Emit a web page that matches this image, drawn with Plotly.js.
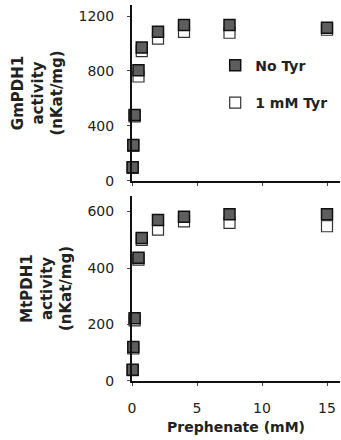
<!DOCTYPE html>
<html>
<head>
<meta charset="utf-8">
<script src="https://cdn.plot.ly/plotly-3.0.1.min.js"></script>
<style>html,body{margin:0;padding:0;background:#fff;}#chart{width:341px;height:440px;}</style>
</head>
<body>
<div id="chart"></div>
<script>
// Prephenate concentrations (mM)
var prephenate = [0.05, 0.1, 0.2, 0.5, 0.75, 2, 4, 7.5, 15];
// GmPDH1 activity (nKat/mg)
var gmNoTyr  = [100, 262, 480, 805, 970, 1085, 1135, 1135, 1115];
var gmTyr    = [95, 255, 470, 760, 945, 1035, 1085, 1078, 1100];
// MtPDH1 activity (nKat/mg)
var mtNoTyr  = [40, 120, 222, 436, 506, 570, 582, 590, 590];
var mtTyr    = [38, 115, 215, 430, 500, 536, 565, 560, 548];
// labels
var seriesNames = ['No Tyr', '1 mM Tyr'];
var xTicks = [0, 5, 10, 15];
var gmTicks = [0, 400, 800, 1200];
var mtTicks = [0, 200, 400, 600];

var filled = {symbol: 'square', size: 11, color: '#5e5e5e', line: {color: '#111', width: 1.5}};
var open = {symbol: 'square', size: 11, color: '#ffffff', line: {color: '#333', width: 1.2}};

var traces = [
  {x: prephenate, y: gmTyr, xaxis: 'x2', yaxis: 'y2', mode: 'markers', type: 'scatter',
   name: seriesNames[1], marker: open, legendrank: 2, legendgroup: 'b', cliponaxis: false},
  {x: prephenate, y: gmNoTyr, xaxis: 'x2', yaxis: 'y2', mode: 'markers', type: 'scatter',
   name: seriesNames[0], marker: filled, legendrank: 1, legendgroup: 'a', cliponaxis: false},
  {x: prephenate, y: mtTyr, xaxis: 'x', yaxis: 'y', mode: 'markers', type: 'scatter',
   name: seriesNames[1], marker: open, showlegend: false, cliponaxis: false},
  {x: prephenate, y: mtNoTyr, xaxis: 'x', yaxis: 'y', mode: 'markers', type: 'scatter',
   name: seriesNames[0], marker: filled, showlegend: false, cliponaxis: false}
];

var tickFont = {family: 'DejaVu Sans', size: 14, color: '#222'};
var titleFont = {family: 'DejaVu Sans', size: 15, color: '#222', weight: 'bold'};

var yCommon = {
  showline: true, linecolor: '#111', linewidth: 2, ticks: 'outside', ticklen: 3, tickwidth: 1,
  tickcolor: '#444', showgrid: false, zeroline: false, tickfont: tickFont, ticklabelstandoff: 10,
  fixedrange: true
};
var xCommon = {
  showline: true, linecolor: '#111', linewidth: 2, ticks: 'outside', ticklen: 3, tickwidth: 1,
  tickcolor: '#444', showgrid: false, zeroline: false, tickfont: tickFont, range: [0, 16],
  tickmode: 'array', tickvals: xTicks, fixedrange: true
};

var layout = {
  width: 341, height: 440,
  margin: {l: 132, r: 1, t: 5, b: 59},
  paper_bgcolor: '#fff', plot_bgcolor: '#fff',
  showlegend: true,
  legend: {
    x: 0.40, y: 0.881, xanchor: 'left', yanchor: 'top',
    font: {family: 'DejaVu Sans', size: 14, color: '#222', weight: 'bold'},
    bgcolor: 'rgba(0,0,0,0)', tracegroupgap: 16, traceorder: 'grouped', itemwidth: 30
  },
  xaxis: Object.assign({}, xCommon, {anchor: 'y', domain: [0, 1], ticklabelstandoff: 10,
    title: {text: 'Prephenate (mM)', font: {family: 'DejaVu Sans', size: 14, color: '#222', weight: 'bold'}, standoff: 7}}),
  xaxis2: Object.assign({}, xCommon, {anchor: 'y2', domain: [0, 1], showticklabels: false, matches: 'x'}),
  yaxis: Object.assign({}, yCommon, {anchor: 'x', domain: [0, 0.492], range: [0, 655],
    tickmode: 'array', tickvals: mtTicks,
    title: {text: 'MtPDH1<br>activity<br>(nKat/mg)', font: titleFont, standoff: 12}}),
  yaxis2: Object.assign({}, yCommon, {anchor: 'x2', domain: [0.532, 1], range: [0, 1280],
    tickmode: 'array', tickvals: gmTicks,
    title: {text: 'GmPDH1<br>activity<br>(nKat/mg)', font: titleFont, standoff: 12}})
};

Plotly.newPlot('chart', traces, layout, {staticPlot: true, displayModeBar: false});
</script>
</body>
</html>
